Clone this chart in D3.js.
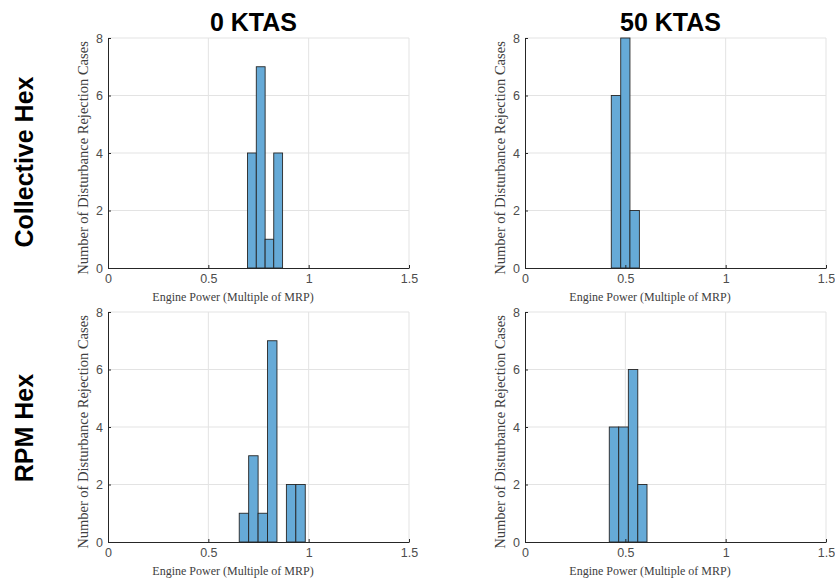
<!DOCTYPE html>
<html>
<head>
<meta charset="utf-8">
<script src="https://cdn.jsdelivr.net/npm/d3@7"></script>
<style>
  body { margin: 0; background: #fff; }
  .tick text { font-family: "Liberation Sans", Arial, sans-serif; font-size: 12.5px; fill: #4d4d4d; }
  .axis-title { font-family: "Liberation Serif", "Times New Roman", serif; fill: #404040; }
  .head { font-family: "Liberation Sans", Arial, sans-serif; font-size: 25px; font-weight: bold; fill: #000; }
</style>
</head>
<body>
<svg width="835" height="585"></svg>
<script>
const colTitles = ["0 KTAS", "50 KTAS"];
const rowTitles = ["Collective Hex", "RPM Hex"];
const xTicks = [0, 0.5, 1, 1.5];
const yTicks = [0, 2, 4, 6, 8];

// bin edges and counts for each panel
const edgesCollective0 = [0.695, 0.739, 0.783, 0.826, 0.870];
const countsCollective0 = [4, 7, 1, 4];
const edgesCollective50 = [0.430, 0.477, 0.523, 0.570];
const countsCollective50 = [6, 8, 2];
const edgesRpm0 = [0.654, 0.701, 0.748, 0.795, 0.842, 0.889, 0.936, 0.983];
const countsRpm0 = [1, 3, 1, 7, 0, 2, 2];
const edgesRpm50 = [0.420, 0.467, 0.515, 0.562, 0.608];
const countsRpm50 = [4, 4, 6, 2];

const panels = [
  { row: 0, col: 0, edges: edgesCollective0, counts: countsCollective0 },
  { row: 0, col: 1, edges: edgesCollective50, counts: countsCollective50 },
  { row: 1, col: 0, edges: edgesRpm0, counts: countsRpm0 },
  { row: 1, col: 1, edges: edgesRpm50, counts: countsRpm50 }
];

const svg = d3.select("svg");
const colX = [108, 525];
const rowY = [38, 312];
const rowLabelY = [162, 428];
const pw = 301, ph = 230;
const axisColor = "#262626";

panels.forEach(p => {
  const x0 = colX[p.col], y0 = rowY[p.row];
  const x = d3.scaleLinear().domain([0, 1.5]).range([x0, x0 + pw]);
  const y = d3.scaleLinear().domain([0, 8]).range([y0 + ph, y0]);
  const g = svg.append("g");

  // grid
  g.selectAll(".gx").data(xTicks.slice(1)).enter().append("line")
    .attr("x1", d => x(d)).attr("x2", d => x(d))
    .attr("y1", y0).attr("y2", y0 + ph)
    .attr("stroke", "#e3e3e3").attr("stroke-width", 1);
  g.selectAll(".gy").data(yTicks.slice(1)).enter().append("line")
    .attr("x1", x0).attr("x2", x0 + pw)
    .attr("y1", d => y(d)).attr("y2", d => y(d))
    .attr("stroke", "#e3e3e3").attr("stroke-width", 1);

  // bars
  const bins = p.counts.map((c, i) => ({ a: p.edges[i], b: p.edges[i + 1], c }));
  g.selectAll(".bar").data(bins).enter().append("rect")
    .attr("x", d => x(d.a))
    .attr("y", d => y(d.c))
    .attr("width", d => x(d.b) - x(d.a))
    .attr("height", d => y(0) - y(d.c))
    .attr("fill", "#66aad7")
    .attr("stroke", "#262626")
    .attr("stroke-width", 0.9);

  // axes
  const xa = g.append("g").attr("transform", `translate(0,${y0 + ph})`)
    .call(d3.axisBottom(x).tickValues(xTicks).tickFormat(d3.format("")).tickSizeInner(-3).tickSizeOuter(0).tickPadding(6));
  const ya = g.append("g").attr("transform", `translate(${x0},0)`)
    .call(d3.axisLeft(y).tickValues(yTicks).tickSizeInner(-3).tickSizeOuter(0).tickPadding(5));
  [xa, ya].forEach(a => {
    a.select(".domain").attr("stroke", axisColor);
    a.selectAll(".tick line").attr("stroke", axisColor);
  });

  g.append("text").attr("class", "axis-title")
    .attr("x", x0 + 125).attr("y", y0 + ph + 33)
    .attr("text-anchor", "middle")
    .style("font-size", "12px")
    .text("Engine Power (Multiple of MRP)");
  g.append("text").attr("class", "axis-title")
    .attr("transform", `translate(${x0 - 20},${y0 + 120}) rotate(-90)`)
    .attr("text-anchor", "middle")
    .style("font-size", "14.5px")
    .text("Number of Disturbance Rejection Cases");
});

colTitles.forEach((t, i) => {
  svg.append("text").attr("class", "head")
    .attr("x", colX[i] + pw / 2 - 5).attr("y", 31)
    .attr("text-anchor", "middle").text(t);
});
rowTitles.forEach((t, i) => {
  svg.append("text").attr("class", "head")
    .attr("transform", `translate(33,${rowLabelY[i]}) rotate(-90)`)
    .attr("text-anchor", "middle").text(t);
});
</script>
</body>
</html>
